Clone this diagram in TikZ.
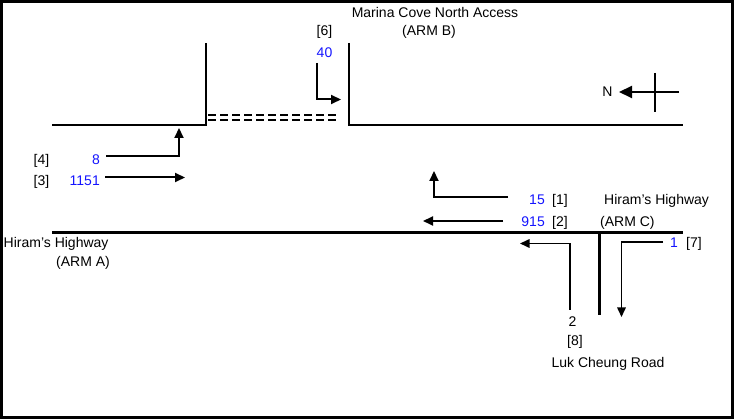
\documentclass[tikz,border=0pt]{standalone}
\usepackage{fontspec}
\setmainfont{Liberation Sans}
\usetikzlibrary{arrows.meta}
\definecolor{numblue}{RGB}{20,20,255}
\tikzset{
  lbl/.style={inner sep=0pt, font=\fontsize{14}{16}\selectfont},
  num/.style={lbl, text=numblue},
  edge/.style={line width=1.2pt},
  mainroad/.style={line width=3pt},
  flow/.style={line width=2pt, -{Triangle[length=10pt,width=9pt]}},
  flowthin/.style={line width=1.6pt, -{Triangle[length=9.5pt,width=8.5pt]}},
  stopline/.style={line width=2.5pt, dash pattern=on 7.5pt off 4.5pt}
}
\begin{document}
\begin{tikzpicture}[x=1pt,y=-1pt]
\useasboundingbox (0,0) rectangle (734,419);
% frame
\draw[line width=3pt] (1.5,1.5) rectangle (732.5,417.5);

% road edges (top)
\coordinate (el) at (52,125);
\coordinate (ec) at (206,125);
\coordinate (et) at (206,43);
\draw[edge] (el) -- (ec) -- (et);
\coordinate (fl) at (349,43);
\coordinate (fc) at (349,125);
\coordinate (fr) at (683,125);
\draw[edge] (fl) -- (fc) -- (fr);

% stop line (double dashed)
\coordinate (s1a) at (208,115.2); \coordinate (s1b) at (339,115.2);
\coordinate (s2a) at (208,120.2); \coordinate (s2b) at (339,120.2);
\draw[stopline] (s1a) -- (s1b);
\draw[stopline] (s2a) -- (s2b);

% main road and side road
\coordinate (ml) at (52,233);
\coordinate (mr) at (683,233);
\draw[mainroad] (ml) -- (mr);
\coordinate (lt) at (599,233);
\coordinate (lb) at (599,315);
\draw[mainroad] (lt) -- (lb);

% north arrow
\coordinate (nv1) at (655,73);
\coordinate (nv2) at (655,112);
\coordinate (nh1) at (679,92);
\coordinate (nh2) at (619,92);
\draw[line width=1.6pt] (nv1) -- (nv2);
\draw[line width=2pt, -{Triangle[length=13pt,width=12pt]}] (nh1) -- (nh2);
\node[lbl, anchor=base] (N) at (607.5,97) {N};

% labels
\node[lbl, anchor=base] (marina) at (435,18) {Marina Cove North Access};
\node[lbl, anchor=base] (armb) at (429,36) {(ARM B)};
\node[lbl, anchor=base] (l6) at (324.5,36) {[6]};
\node[num, anchor=base] (n6) at (324.5,58) {40};
\node[lbl, anchor=base] (l4) at (41.5,165) {[4]};
\node[num, anchor=base east] (n4) at (100,165) {8};
\node[lbl, anchor=base] (l3) at (41.5,186) {[3]};
\node[num, anchor=base east] (n3) at (100,186) {1151};
\node[num, anchor=base east] (n1) at (545,205) {15};
\node[lbl, anchor=base west] (l1) at (552,205) {[1]};
\node[lbl, anchor=base west] (hhc) at (604,205) {Hiram's Highway};
\node[num, anchor=base east] (n2) at (545,227) {915};
\node[lbl, anchor=base west] (l2) at (552,227) {[2]};
\node[lbl, anchor=base west] (armc) at (600,227) {(ARM C)};
\node[lbl, anchor=base west] (hha) at (3.5,248) {Hiram's Highway};
\node[lbl, anchor=base west] (arma) at (56,267) {(ARM A)};
\node[num, anchor=base east] (n7) at (678,248) {1};
\node[lbl, anchor=base west] (l7) at (686,248) {[7]};
\node[lbl, anchor=base] (n8) at (572.5,327) {2};
\node[lbl, anchor=base] (l8) at (575,346) {[8]};
\node[lbl, anchor=base] (luk) at (608,368) {Luk Cheung Road};

% flow arrows
\coordinate (a6s) at (317,63); \coordinate (a6c) at (317,99.5); \coordinate (a6e) at (341,99.5);
\draw[flow] (a6s) -- (a6c) -- (a6e);
\coordinate (a4s) at (106,156); \coordinate (a4c) at (179,156); \coordinate (a4e) at (179,128);
\draw[flow] (a4s) -- (a4c) -- (a4e);
\coordinate (a3s) at (105,177.5); \coordinate (a3e) at (185,177.5);
\draw[flow] (a3s) -- (a3e);
\coordinate (a1s) at (508,197); \coordinate (a1c) at (434,197); \coordinate (a1e) at (434,171);
\draw[flow] (a1s) -- (a1c) -- (a1e);
\coordinate (a2s) at (503,221); \coordinate (a2e) at (423,221);
\draw[flow] (a2s) -- (a2e);
\coordinate (a8s) at (570,310); \coordinate (a8c) at (570,243.5); \coordinate (a8e) at (520,243.5);
\draw[flowthin] (a8s) -- (a8c) -- (a8e);
\coordinate (a7s) at (663,242); \coordinate (a7c) at (621.5,242); \coordinate (a7e) at (621.5,317);
\draw[flowthin] (a7s) -- (a7c) -- (a7e);
\end{tikzpicture}
\end{document}
